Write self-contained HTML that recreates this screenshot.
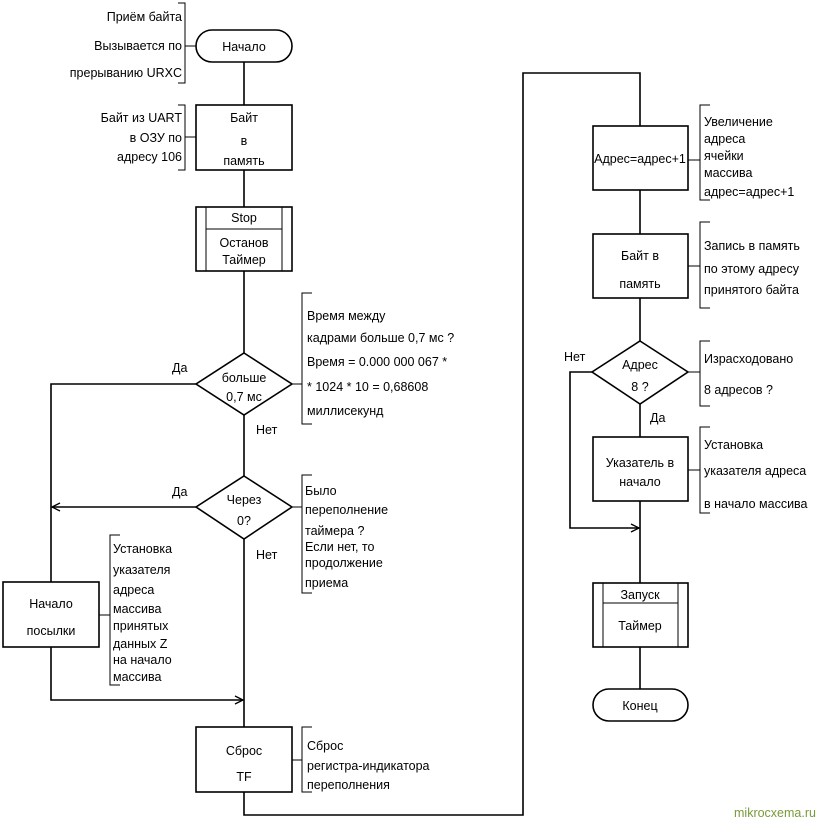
<!DOCTYPE html>
<html><head><meta charset="utf-8"><style>
html,body{margin:0;padding:0;background:#fff;}
svg{display:block;}
text{font-family:"Liberation Sans","DejaVu Sans",sans-serif;font-size:12.5px;fill:#000;}
</style></head><body>
<svg width="818" height="820" viewBox="0 0 818 820" xmlns="http://www.w3.org/2000/svg">
<defs>
<marker id="ah" markerWidth="10" markerHeight="10" refX="9" refY="5" orient="auto" markerUnits="userSpaceOnUse">
<path d="M1,1 L9,5 L1,9" fill="none" stroke="#000" stroke-width="1.3"/>
</marker>
</defs>
<g fill="none" stroke="#000" stroke-width="1.6">
<!-- left column -->
<rect x="196" y="30" width="96" height="32" rx="16"/>
<line x1="244" y1="62" x2="244" y2="105"/>
<rect x="196" y="105" width="96" height="65"/>
<line x1="244" y1="170" x2="244" y2="207"/>
<rect x="196" y="207" width="96" height="64"/>
<line x1="206" y1="207" x2="206" y2="271" stroke-width="1"/>
<line x1="282" y1="207" x2="282" y2="271" stroke-width="1"/>
<line x1="206" y1="229" x2="282" y2="229" stroke-width="1"/>
<line x1="244" y1="271" x2="244" y2="353"/>
<polygon points="244,353 292,384 244,415 196,384"/>
<polyline points="196,384 51,384 51,582"/>
<line x1="244" y1="415" x2="244" y2="476"/>
<polygon points="244,476 292,507 244,539 196,507"/>
<line x1="196" y1="507" x2="52" y2="507" marker-end="url(#ah)"/>
<rect x="3" y="582" width="96" height="65"/>
<polyline points="51,647 51,700 243,700" marker-end="url(#ah)"/>
<line x1="244" y1="539" x2="244" y2="727"/>
<rect x="196" y="727" width="96" height="65"/>
<polyline points="244,792 244,815 523,815 523,73 640,73 640,126"/>
<!-- right column -->
<rect x="593" y="126" width="95" height="64"/>
<line x1="640" y1="190" x2="640" y2="234"/>
<rect x="593" y="234" width="95" height="64"/>
<line x1="640" y1="298" x2="640" y2="341"/>
<polygon points="640,341 688,372 640,404 592,372"/>
<polyline points="592,372 570,372 570,528 639,528" marker-end="url(#ah)"/>
<line x1="640" y1="404" x2="640" y2="437"/>
<rect x="593" y="437" width="95" height="64"/>
<line x1="640" y1="501" x2="640" y2="583"/>
<rect x="593" y="583" width="95" height="64"/>
<line x1="603" y1="583" x2="603" y2="647" stroke-width="1"/>
<line x1="678" y1="583" x2="678" y2="647" stroke-width="1"/>
<line x1="603" y1="603" x2="678" y2="603" stroke-width="1"/>
<line x1="640" y1="647" x2="640" y2="689"/>
<rect x="593" y="689" width="95" height="32" rx="16"/>
</g>
<!-- annotation brackets -->
<g fill="none" stroke="#000" stroke-width="1">
<polyline points="178,3 185,3 185,83 178,83"/><line x1="185" y1="46" x2="196" y2="46"/>
<polyline points="178,105 185,105 185,170 178,170"/><line x1="185" y1="137" x2="196" y2="137"/>
<polyline points="312,293 302,293 302,424 312,424"/><line x1="292" y1="384" x2="302" y2="384"/>
<polyline points="312,475 302,475 302,593 312,593"/><line x1="292" y1="507" x2="302" y2="507"/>
<polyline points="120,535 110,535 110,685 120,685"/><line x1="99" y1="615" x2="110" y2="615"/>
<polyline points="312,727 302,727 302,792 312,792"/><line x1="292" y1="760" x2="302" y2="760"/>
<polyline points="710,105 700,105 700,200 710,200"/><line x1="688" y1="160" x2="700" y2="160"/>
<polyline points="710,222 700,222 700,308 710,308"/><line x1="688" y1="266" x2="700" y2="266"/>
<polyline points="710,341 700,341 700,406 710,406"/><line x1="688" y1="372" x2="700" y2="372"/>
<polyline points="710,427 700,427 700,513 710,513"/><line x1="688" y1="470" x2="700" y2="470"/>
</g>
<!-- text -->
<g text-anchor="middle">
<text x="244" y="51">Начало</text>
<text x="244" y="122">Байт</text><text x="244" y="145">в</text><text x="244" y="165">память</text>
<text x="244" y="222">Stop</text>
<text x="244" y="247" font-size="11">Останов</text><text x="244" y="264" font-size="11">Таймер</text>
<text x="244" y="382">больше</text><text x="244" y="401">0,7 мс</text>
<text x="244" y="504">Через</text><text x="244" y="525">0?</text>
<text x="51" y="608">Начало</text><text x="51" y="635">посылки</text>
<text x="244" y="755">Сброс</text><text x="244" y="781">TF</text>
<text x="640" y="163">Адрес=адрес+1</text>
<text x="640" y="260">Байт в</text><text x="640" y="288">память</text>
<text x="640" y="369">Адрес</text><text x="640" y="391">8 ?</text>
<text x="640" y="467">Указатель в</text><text x="640" y="486">начало</text>
<text x="640" y="599">Запуск</text><text x="640" y="630">Таймер</text>
<text x="640" y="710">Конец</text>
</g>
<g text-anchor="end">
<text x="182" y="21">Приём байта</text>
<text x="182" y="50">Вызывается по</text>
<text x="182" y="77">прерыванию URXC</text>
<text x="182" y="122">Байт из UART</text>
<text x="182" y="142">в ОЗУ по</text>
<text x="182" y="161">адресу 106</text>
</g>
<text x="307" y="320">Время между</text>
<text x="307" y="342">кадрами больше 0,7 мс ?</text>
<text x="307" y="366">Время = 0.000 000 067 *</text>
<text x="307" y="391">* 1024 * 10 = 0,68608</text>
<text x="307" y="415">миллисекунд</text>
<text x="172" y="372">Да</text>
<text x="256" y="434">Нет</text>
<text x="172" y="496">Да</text>
<text x="256" y="559">Нет</text>
<text x="305" y="495">Было</text>
<text x="305" y="514">переполнение</text>
<text x="305" y="535">таймера ?</text>
<text x="305" y="551" font-size="11">Если нет, то</text>
<text x="305" y="567" font-size="11">продолжение</text>
<text x="305" y="587" font-size="11">приема</text>
<text x="113" y="553">Установка</text>
<text x="113" y="574">указателя</text>
<text x="113" y="594">адреса</text>
<text x="113" y="613">массива</text>
<text x="113" y="630">принятых</text>
<text x="113" y="648">данных Z</text>
<text x="113" y="664">на начало</text>
<text x="113" y="681">массива</text>
<text x="307" y="750">Сброс</text>
<text x="307" y="770">регистра-индикатора</text>
<text x="307" y="789">переполнения</text>
<text x="704" y="126">Увеличение</text>
<text x="704" y="143">адреса</text>
<text x="704" y="160">ячейки</text>
<text x="704" y="177">массива</text>
<text x="704" y="196">адрес=адрес+1</text>
<text x="704" y="250">Запись в память</text>
<text x="704" y="273">по этому адресу</text>
<text x="704" y="294">принятого байта</text>
<text x="564" y="361">Нет</text>
<text x="650" y="422">Да</text>
<text x="704" y="363">Израсходовано</text>
<text x="704" y="394">8 адресов ?</text>
<text x="704" y="449">Установка</text>
<text x="704" y="475">указателя адреса</text>
<text x="704" y="508">в начало массива</text>
<text x="734" y="817" font-size="10" style="fill:#7a9a3a">mikrocxema.ru</text>
</svg>
</body></html>
